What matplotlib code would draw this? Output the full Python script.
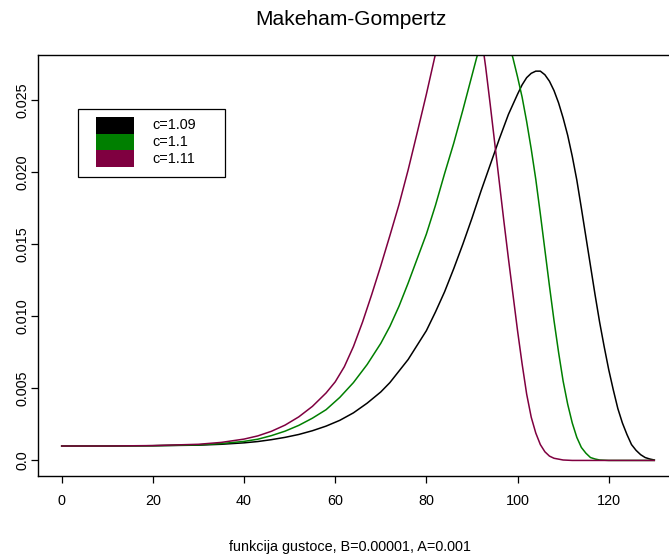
import matplotlib
matplotlib.use("Agg")
import matplotlib.pyplot as plt
from matplotlib.patches import Rectangle
from matplotlib.ticker import FixedLocator, FixedFormatter

plt.rcParams['font.family'] = ['Liberation Sans', 'DejaVu Sans']

# ============ DATA ============
# density values per age, c=1.09
black_age = [0, 10, 20, 30, 35, 40, 43, 46, 49, 52, 55, 58, 61, 64, 67, 70, 72, 74, 76, 78,
             80, 82, 84, 86, 88, 90, 92, 94, 96, 98, 100, 101, 102, 103, 104, 105, 106, 107,
             108, 109, 110, 111, 112, 113, 114, 115, 116, 117, 118, 119, 120, 121, 122, 123,
             124, 125, 126, 127, 128, 129, 130]
black_val = [0.00100, 0.00100, 0.00102, 0.00106, 0.00112, 0.00122, 0.00131, 0.00144, 0.00160,
             0.00180, 0.00206, 0.00238, 0.00278, 0.00330, 0.00397, 0.00475, 0.00540, 0.00620,
             0.00700, 0.00800, 0.00900, 0.01030, 0.01170, 0.01330, 0.01500, 0.01680, 0.01870,
             0.02050, 0.02230, 0.02400, 0.02540, 0.02605, 0.02655, 0.02685, 0.02700, 0.02700,
             0.02675, 0.02630, 0.02565, 0.02480, 0.02375, 0.02255, 0.02110, 0.01945, 0.01750,
             0.01550, 0.01350, 0.01150, 0.00960, 0.00790, 0.00630, 0.00490, 0.00360, 0.00260,
             0.00180, 0.00110, 0.00070, 0.00040, 0.00020, 0.00010, 0.00003]

# c=1.1
green_age = [0, 10, 20, 30, 35, 40, 43, 46, 49, 52, 55, 58, 61, 64, 67, 70, 72, 74, 76, 78,
             80, 82, 84, 86, 88, 89, 90, 91, 92, 93, 94, 95, 96, 97, 98, 99, 100, 101, 102,
             103, 104, 105, 106, 107, 108, 109, 110, 111, 112, 113, 114, 115, 116, 117, 118,
             120, 125, 130]
green_val = [0.00100, 0.00100, 0.00102, 0.00108, 0.00117, 0.00132, 0.00147, 0.00172, 0.00203,
             0.00243, 0.00293, 0.00352, 0.00437, 0.00540, 0.00665, 0.00812, 0.00930, 0.01070,
             0.01230, 0.01400, 0.01570, 0.01770, 0.01990, 0.02200, 0.02430, 0.02550, 0.02670,
             0.02790, 0.02900, 0.02980, 0.03030, 0.03050, 0.03030, 0.02980, 0.02900, 0.02790,
             0.02660, 0.02520, 0.02350, 0.02160, 0.01950, 0.01710, 0.01460, 0.01210, 0.00970,
             0.00750, 0.00550, 0.00390, 0.00260, 0.00160, 0.00090, 0.00050, 0.00020, 0.00010,
             0.00003, 0.00000, 0.00000, 0.00000]

# c=1.11
purple_age = [0, 10, 20, 30, 35, 40, 43, 46, 49, 52, 55, 58, 60, 62, 64, 66, 68, 70, 72, 74,
              76, 78, 80, 81, 82, 83, 84, 85, 86, 87, 88, 89, 90, 91, 92, 93, 94, 95, 96, 97,
              98, 99, 100, 101, 102, 103, 104, 105, 106, 107, 108, 110, 112, 120, 130]
purple_val = [0.00100, 0.00100, 0.00103, 0.00112, 0.00125, 0.00148, 0.00170, 0.00202, 0.00245,
              0.00302, 0.00375, 0.00468, 0.00545, 0.00650, 0.00790, 0.00960, 0.01150, 0.01350,
              0.01560, 0.01775, 0.02015, 0.02275, 0.02540, 0.02680, 0.02820, 0.02940, 0.03040,
              0.03130, 0.03200, 0.03250, 0.03290, 0.03290, 0.03240, 0.03130, 0.02960, 0.02730,
              0.02470, 0.02200, 0.01930, 0.01660, 0.01400, 0.01150, 0.00900, 0.00670, 0.00460,
              0.00300, 0.00190, 0.00110, 0.00060, 0.00030, 0.00015, 0.00003, 0.00000, 0.00000,
              0.00000]

labels = ["c=1.09", "c=1.1", "c=1.11"]
colors = ["#000000", "#007f00", "#7f0040"]

x_ticks = [0, 20, 40, 60, 80, 100, 120]
y_ticks = [0.0, 0.005, 0.010, 0.015, 0.020, 0.025]
y_tick_labels = ["0.0", "0.005", "0.010", "0.015", "0.020", "0.025"]

title = "Makeham-Gompertz"
x_label = "funkcija gustoce, B=0.00001, A=0.001"

# ============ FIGURE ============
W, H = 669, 559
fig = plt.figure(figsize=(W / 100, H / 100), dpi=100)


def fx(x):
    return x / W


def fy(y):
    return 1 - y / H


ax = fig.add_axes([fx(38), fy(476), (678 - 38) / W, (476 - 55) / H])

curves = [(black_age, black_val), (green_age, green_val), (purple_age, purple_val)]
for (age, val), col in zip(curves, colors):
    ax.plot(age, val, color=col, linewidth=1.1)

ax.set_xlim(-5.2, 135.2)
ax.set_ylim(-0.00108, 0.02812)

ax.xaxis.set_major_locator(FixedLocator(x_ticks))
ax.yaxis.set_major_locator(FixedLocator(y_ticks))
ax.yaxis.set_major_formatter(FixedFormatter(y_tick_labels))
ax.tick_params(axis='both', length=5, width=0.9, labelsize=10.4, color='black')
ax.tick_params(axis='x', pad=8)
ax.tick_params(axis='y', pad=1)
for lab in ax.get_yticklabels():
    lab.set_rotation(90)
    lab.set_va('center')

for sp in ax.spines.values():
    sp.set_linewidth(1.0)
    sp.set_color('black')

# title and axis caption
fig.text(fx(351), fy(25), title, ha='center', va='baseline', fontsize=15.1)
fig.text(fx(350), fy(551), x_label, ha='center', va='baseline', fontsize=10.4)

# ============ LEGEND ============
fig.add_artist(Rectangle((fx(78), fy(177)), (225 - 78) / W, (177 - 109) / H,
                         transform=fig.transFigure, fill=False, edgecolor='black',
                         linewidth=0.9))
row_h = 16.7
for i, (lab, col) in enumerate(zip(labels, colors)):
    top = 117 + i * row_h
    fig.add_artist(Rectangle((fx(96), fy(top + row_h)), 38 / W, row_h / H,
                             transform=fig.transFigure, facecolor=col, edgecolor='none'))
    fig.text(fx(152), fy(top + row_h / 2), lab, ha='left', va='center', fontsize=10.4)

fig.savefig("out.png", dpi=100)
